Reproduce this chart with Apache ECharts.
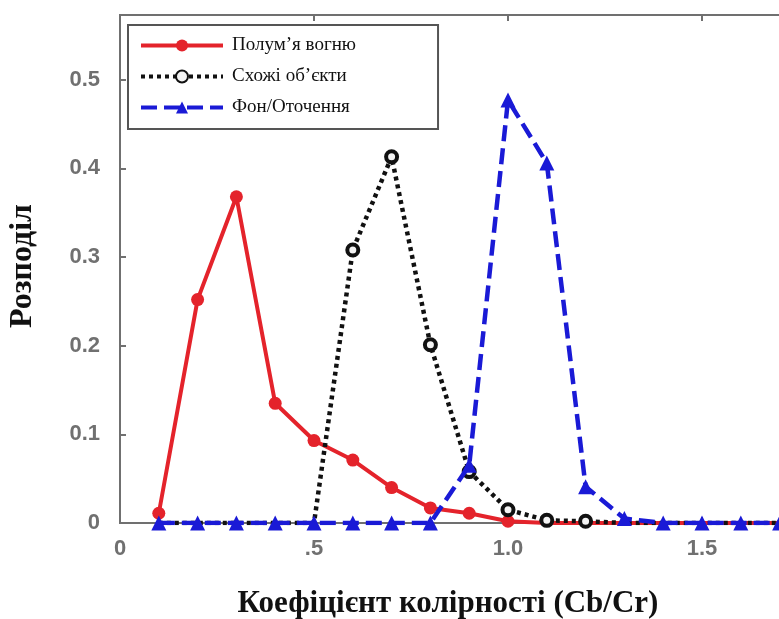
<!DOCTYPE html>
<html>
<head>
<meta charset="utf-8">
<script src="https://cdn.jsdelivr.net/npm/echarts@6/dist/echarts.min.js"></script>
<style>html,body{margin:0;padding:0;background:#fff}#c{width:779px;height:619px}</style>
</head>
<body>
<div id="c"></div>
<script>
var xValues = [0.1,0.2,0.3,0.4,0.5,0.6,0.7,0.8,0.9,1.0,1.1,1.2,1.3,1.4,1.5,1.6,1.7];
var flame   = [0.011,0.252,0.368,0.135,0.093,0.071,0.040,0.017,0.011,0.002,0,0,0,0,0,0,0];
var similar = [0,0,0,0,0,0.308,0.413,0.201,0.058,0.015,0.003,0.002,0,0,0,0,0];
var backgr  = [0,0,0,0,0,0,0,0,0.065,0.477,0.406,0.041,0.005,0,0,0,0];
var seriesNames = ['Полум\u2019я вогню','Схожі об\u2019єкти','Фон/Оточення'];
var xTickLabels = {'0':'0','0.5':'.5','1':'1.0','1.5':'1.5'};
var yTickLabels = {'0':'0','0.1':'0.1','0.2':'0.2','0.3':'0.3','0.4':'0.4','0.5':'0.5'};
var xAxisTitle = 'Коефіцієнт колірності (Cb/Cr)';
var yAxisTitle = 'Розподіл';

function pairs(ys){ return xValues.map(function(x,i){return [x, ys[i]];}); }
function fmt(map){ return function(v){ var k = String(Math.round(v*1000)/1000); return map.hasOwnProperty(k) ? map[k] : ''; }; }
function sizeNonZero(s){ return function(v){ return v[1] > 0 ? s : 0; }; }

var chart = echarts.init(document.getElementById('c'));
var tickFont = {color:'#707070', fontFamily:'Liberation Sans', fontWeight:'bold', fontSize:22};
var axisGray = '#707070';
chart.setOption({
  animation:false,
  grid:{left:120, top:15, bottom:96, width:679, outerBoundsMode:'none', containLabel:false,
        show:true, borderColor:axisGray, borderWidth:2},
  legend:{
    left:128, top:25, orient:'vertical', padding:[11,82,12,11],
    borderColor:'#555', borderWidth:2, backgroundColor:'#fff',
    itemWidth:82, itemHeight:15, itemGap:12,
    lineStyle:{width:4},
    textStyle:{fontFamily:'Liberation Serif', fontSize:19, color:'#111', padding:[0,0,0,4]},
    data:seriesNames
  },
  graphic:[
    {type:'text', x:448, y:588, style:{text:xAxisTitle, align:'center', verticalAlign:'top', fontFamily:'Liberation Serif', fontWeight:'bold', fontSize:31, fill:'#111'}},
    {type:'text', x:7, y:266, rotation:Math.PI/2, style:{text:yAxisTitle, align:'center', verticalAlign:'top', fontFamily:'Liberation Serif', fontWeight:'bold', fontSize:32, fill:'#111'}}
  ],
  xAxis:[{
    type:'value', min:0, max:1.75, interval:0.5,
    axisLine:{show:true, lineStyle:{color:axisGray, width:2}},
    axisTick:{show:true, inside:true, length:6, lineStyle:{color:axisGray, width:2}},
    axisLabel:Object.assign({margin:15, formatter:fmt(xTickLabels)}, tickFont),
    splitLine:{show:false}
  },{
    type:'value', position:'top', min:0, max:1.75, interval:0.5,
    axisLine:{show:false},
    axisTick:{show:true, inside:true, length:6, lineStyle:{color:axisGray, width:2}},
    axisLabel:{show:false}, splitLine:{show:false}
  }],
  yAxis:{
    type:'value', min:0, max:0.573, interval:0.1,
    axisLine:{show:true, lineStyle:{color:axisGray, width:2}},
    axisTick:{show:true, inside:true, length:6, lineStyle:{color:axisGray, width:2}},
    axisLabel:Object.assign({margin:20, formatter:fmt(yTickLabels)}, tickFont),
    splitLine:{show:false}
  },
  series:[
    {name:seriesNames[0], type:'line', data:pairs(flame), symbol:'circle', symbolSize:sizeNonZero(13),
     itemStyle:{color:'#e4232b'}, lineStyle:{color:'#e4232b', width:4}, z:2},
    {name:seriesNames[1], type:'line', data:pairs(similar), symbol:'circle', symbolSize:sizeNonZero(11),
     itemStyle:{color:'#f4f4f4', borderColor:'#111', borderWidth:4},
     lineStyle:{color:'#111', width:4.5, type:[4,4]}, z:3},
    {name:seriesNames[2], type:'line', data:pairs(backgr), symbol:'triangle', symbolSize:15,
     itemStyle:{color:'#1a1ad6'}, lineStyle:{color:'#1a1ad6', width:4.5, type:[16,7]}, z:4}
  ]
});
</script>
</body>
</html>
